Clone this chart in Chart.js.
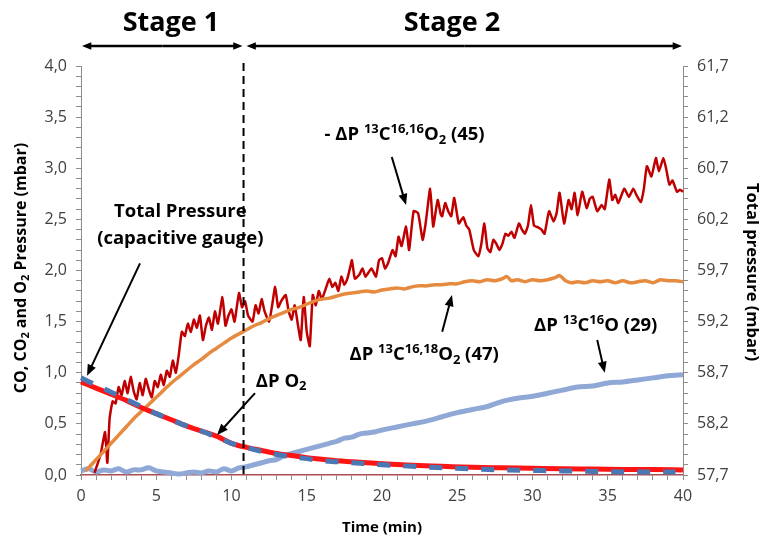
<!DOCTYPE html>
<html>
<head>
<meta charset="utf-8">
<script src="https://cdn.jsdelivr.net/npm/chart.js@4.4.1/dist/chart.umd.min.js"></script>
<style>
  html, body { margin: 0; padding: 0; background: #fff; }
  #wrap { width: 765px; height: 545px; position: relative; }
</style>
</head>
<body>
<div id="wrap"><canvas id="chart"></canvas></div>
<script>
// time axis (min) for the smooth traces
const tSmooth = [0, 1, 2, 3, 4, 5, 6, 7, 8, 9, 10, 11, 12, 13, 14, 15, 16, 17, 18, 19, 20,
  22, 24, 26, 28, 30, 32, 34, 36, 38, 40];

// total pressure, capacitive gauge (mbar, right axis)
const totalPressure = [58.61, 58.55, 58.49, 58.43, 58.36, 58.30, 58.24, 58.18, 58.13, 58.08, 58.01,
  57.97, 57.94, 57.91, 57.89, 57.87, 57.855, 57.84, 57.83, 57.82, 57.81,
  57.795, 57.785, 57.775, 57.77, 57.765, 57.76, 57.758, 57.755, 57.753, 57.75];

// O2 consumption (mbar)
const tO2 = [0, 1, 2, 3, 4, 5, 6, 7, 8, 9, 10, 11, 12, 13, 14, 15, 16, 17, 18, 19, 20,
  22, 24, 26, 28, 30, 32, 34, 36, 38, 39.5];
const dpO2 = [0.95, 0.88, 0.81, 0.74, 0.67, 0.60, 0.54, 0.48, 0.43, 0.37, 0.31,
  0.27, 0.23, 0.20, 0.18, 0.16, 0.14, 0.13, 0.12, 0.11, 0.10,
  0.085, 0.07, 0.06, 0.05, 0.045, 0.04, 0.035, 0.03, 0.03, 0.03];

// 13C16,18O2, m/z 47
const t47 = [0.3, 0.5, 1, 1.5, 2, 2.5, 3, 3.5, 4, 4.5, 5, 5.5, 6, 6.5, 7, 7.5, 8, 8.5, 9, 9.5,
  10, 10.5, 11, 11.5, 12, 12.5, 13, 13.5, 14, 14.5, 15, 15.5, 16, 16.5, 17, 17.5, 18, 18.5,
  19, 19.5, 20, 20.5, 21, 21.5, 22, 22.5, 23, 23.5, 24, 24.5, 25, 25.5, 26, 26.5, 27, 27.5,
  28, 28.3, 28.6, 29, 29.5, 30, 30.5, 31, 31.5, 31.8, 32.2, 32.6, 33, 33.5, 34, 34.5, 35,
  35.5, 36, 36.5, 37, 37.5, 38, 38.5, 39, 39.5, 40];
const p47 = [0.04, 0.07, 0.15, 0.23, 0.31, 0.39, 0.47, 0.55, 0.62, 0.69, 0.76, 0.83, 0.90,
  0.96, 1.02, 1.08, 1.13, 1.19, 1.24, 1.29, 1.34, 1.38, 1.42, 1.46, 1.49, 1.53, 1.56, 1.59,
  1.62, 1.64, 1.67, 1.70, 1.72, 1.73, 1.75, 1.77, 1.78, 1.79, 1.80, 1.79, 1.81, 1.82, 1.83,
  1.82, 1.84, 1.85, 1.85, 1.86, 1.86, 1.87, 1.87, 1.89, 1.90, 1.89, 1.91, 1.90, 1.92, 1.94,
  1.90, 1.91, 1.89, 1.91, 1.90, 1.91, 1.93, 1.95, 1.90, 1.88, 1.89, 1.88, 1.90, 1.89, 1.90,
  1.88, 1.90, 1.88, 1.89, 1.90, 1.88, 1.91, 1.90, 1.90, 1.89];

// 13C16O, m/z 29
const t29 = [0, 0.5, 1, 1.5, 2, 2.5, 3, 3.5, 4, 4.5, 5, 5.5, 6, 6.5, 7, 7.5, 8, 8.5, 9, 9.5,
  10, 10.5, 11, 11.5, 12, 12.5, 13, 13.5, 14, 14.5, 15, 15.5, 16, 16.5, 17, 17.5, 18, 18.5,
  19, 19.5, 20, 21, 22, 23, 24, 25, 26, 27, 28, 29, 30, 31, 32, 33, 34, 35, 36, 37, 38, 39, 40];
const p29 = [0.04, 0.06, 0.03, 0.05, 0.04, 0.06, 0.03, 0.05, 0.05, 0.07, 0.04, 0.03, 0.02,
  0.01, 0.02, 0.03, 0.02, 0.04, 0.03, 0.06, 0.04, 0.07, 0.08, 0.10, 0.12, 0.14, 0.15, 0.19,
  0.21, 0.23, 0.25, 0.27, 0.29, 0.31, 0.33, 0.36, 0.37, 0.40, 0.41, 0.42, 0.44, 0.47, 0.50,
  0.53, 0.57, 0.61, 0.64, 0.67, 0.72, 0.75, 0.77, 0.80, 0.83, 0.86, 0.87, 0.90, 0.91, 0.93,
  0.95, 0.97, 0.98];

// -13C16,16O2, m/z 45 (noisy)
const t45 = [0.9, 1.3, 1.6, 1.75, 1.9, 2.1, 2.3, 2.5, 2.7, 2.9, 3.1, 3.3, 3.5, 3.7, 3.9, 4.1,
  4.3, 4.5, 4.7, 4.9, 5.1, 5.3, 5.5, 5.7, 5.9, 6.1, 6.3, 6.5, 6.7, 6.9, 7.1, 7.3, 7.5, 7.7,
  7.9, 8.1, 8.3, 8.5, 8.7, 8.9, 9.1, 9.4, 9.6, 9.8, 10.0, 10.2, 10.5, 10.7, 10.9, 11.1, 11.4,
  11.6, 11.8, 12.0, 12.2, 12.5, 12.7, 12.9, 13.1, 13.3, 13.6, 13.8, 14.0, 14.2, 14.4, 14.6,
  14.8, 15.0, 15.2, 15.4, 15.6, 15.8, 16.0, 16.3, 16.5, 16.7, 16.9, 17.1, 17.3, 17.5, 17.7,
  17.9, 18.0, 18.2, 18.5, 18.7, 18.9, 19.1, 19.3, 19.6, 19.8, 20.0, 20.2, 20.4, 20.7, 20.9,
  21.1, 21.3, 21.6, 21.8, 22.1, 22.4, 22.7, 22.9, 23.2, 23.4, 23.7, 23.9, 24.0, 24.2, 24.4,
  24.6, 24.8, 25.1, 25.4, 25.6, 25.8, 26.1, 26.4, 26.6, 26.8, 27.0, 27.2, 27.4, 27.6, 27.8,
  28.0, 28.2, 28.4, 28.6, 28.8, 29.1, 29.3, 29.5, 29.7, 29.9, 30.1, 30.4, 30.6, 30.8, 31.1,
  31.4, 31.6, 31.8, 32.1, 32.4, 32.6, 32.8, 33.0, 33.3, 33.6, 33.8, 34.0, 34.3, 34.6, 34.8,
  35.1, 35.3, 35.5, 35.7, 36.1, 36.4, 36.7, 36.9, 37.2, 37.4, 37.6, 37.9, 38.2, 38.4, 38.7,
  38.9, 39.1, 39.3, 39.6, 39.8, 40.0];
const p45 = [0.02, 0.20, 0.42, 0.12, 0.55, 0.72, 0.70, 0.86, 0.78, 0.92, 0.80, 0.96, 0.82,
  0.74, 0.90, 0.78, 0.94, 0.84, 0.76, 0.92, 0.86, 0.98, 0.88, 1.02, 0.96, 1.12, 1.00, 1.18,
  1.40, 1.36, 1.48, 1.40, 1.52, 1.44, 1.56, 1.32, 1.46, 1.54, 1.42, 1.60, 1.48, 1.74, 1.46,
  1.56, 1.62, 1.50, 1.78, 1.64, 1.70, 1.56, 1.50, 1.66, 1.58, 1.72, 1.60, 1.50, 1.66, 1.84,
  1.64, 1.70, 1.76, 1.60, 1.52, 1.66, 1.48, 1.32, 1.74, 1.40, 1.26, 1.76, 1.66, 1.80, 1.72,
  1.84, 1.92, 1.84, 1.88, 1.80, 1.94, 1.86, 1.92, 2.04, 2.10, 1.92, 1.96, 2.02, 1.94, 1.98,
  2.02, 1.94, 2.10, 2.12, 2.02, 2.07, 2.20, 2.14, 2.33, 2.24, 2.43, 2.20, 2.58, 2.56, 2.30,
  2.46, 2.80, 2.43, 2.69, 2.55, 2.53, 2.66, 2.58, 2.53, 2.71, 2.46, 2.52, 2.44, 2.40, 2.20,
  2.14, 2.26, 2.46, 2.22, 2.18, 2.30, 2.26, 2.20, 2.26, 2.36, 2.34, 2.38, 2.32, 2.46, 2.40,
  2.36, 2.44, 2.64, 2.44, 2.42, 2.40, 2.36, 2.58, 2.48, 2.56, 2.76, 2.46, 2.69, 2.60, 2.76,
  2.54, 2.77, 2.61, 2.70, 2.72, 2.58, 2.64, 2.60, 2.89, 2.69, 2.74, 2.66, 2.80, 2.72, 2.80,
  2.74, 2.67, 2.80, 3.02, 2.92, 3.10, 2.97, 3.10, 2.98, 2.84, 2.88, 2.77, 2.79, 2.77];

// boundary between the two stages (min)
const stageSplit = 10.8;

const FONT = '"Open Sans", Lato, sans-serif';
const xy = (xs, ys) => xs.map((x, i) => ({ x: x, y: ys[i] }));
const comma = v => v.toFixed(1).replace('.', ',');

// draws text made of normal / superscript (1) / subscript (-1) pieces, centred at (cx, cy)
function richText(ctx, parts, cx, cy, size) {
  const small = Math.round(size * 0.68);
  let total = 0;
  parts.forEach(p => {
    ctx.font = 'bold ' + (p[1] ? small : size) + 'px ' + FONT;
    total += ctx.measureText(p[0]).width;
  });
  let x = cx - total / 2;
  ctx.textBaseline = 'alphabetic';
  ctx.textAlign = 'left';
  const base = cy + size * 0.36;
  parts.forEach(p => {
    ctx.font = 'bold ' + (p[1] ? small : size) + 'px ' + FONT;
    const dy = p[1] === 1 ? -size * 0.4 : (p[1] === -1 ? size * 0.2 : 0);
    ctx.fillText(p[0], x, base + dy);
    x += ctx.measureText(p[0]).width;
  });
}

function arrow(ctx, x1, y1, x2, y2, head, width) {
  const a = Math.atan2(y2 - y1, x2 - x1);
  ctx.lineWidth = width;
  ctx.beginPath();
  ctx.moveTo(x1, y1);
  ctx.lineTo(x2 - Math.cos(a) * head * 0.8, y2 - Math.sin(a) * head * 0.8);
  ctx.stroke();
  ctx.beginPath();
  ctx.moveTo(x2, y2);
  ctx.lineTo(x2 - head * Math.cos(a - 0.38), y2 - head * Math.sin(a - 0.38));
  ctx.lineTo(x2 - head * Math.cos(a + 0.38), y2 - head * Math.sin(a + 0.38));
  ctx.closePath();
  ctx.fill();
}

const notes = {
  id: 'notes',
  afterDatasetsDraw(chart) {
    const { ctx, chartArea, scales } = chart;
    const X = v => scales.x.getPixelForValue(v);
    const Y = v => scales.y.getPixelForValue(v);
    ctx.save();
    ctx.fillStyle = '#000';
    ctx.strokeStyle = '#000';

    // stage divider
    ctx.setLineDash([8, 5]);
    ctx.lineWidth = 2;
    ctx.beginPath();
    ctx.moveTo(X(stageSplit), chartArea.top - 3);
    ctx.lineTo(X(stageSplit), chartArea.bottom);
    ctx.stroke();
    ctx.setLineDash([]);

    // stage arrows and names
    const ay = chartArea.top - 20;
    const s1 = X(0), s2 = X(stageSplit), s3 = X(40);
    [[s1 + 1, s2 - 1], [s2 + 3, s3 - 1]].forEach(([a, b]) => {
      const m = (a + b) / 2;
      arrow(ctx, m, ay, a, ay, 10, 2.5);
      arrow(ctx, m, ay, b, ay, 10, 2.5);
    });
    richText(ctx, [['Stage 1', 0]], 171, 21, 27);
    richText(ctx, [['Stage 2', 0]], 452, 21, 27);

    // series labels
    richText(ctx, [['Total Pressure', 0]], X(6.6), Y(2.59), 18.5);
    richText(ctx, [['(capacitive gauge)', 0]], X(6.6), Y(2.32), 18.5);
    arrow(ctx, X(3.92), Y(2.07), X(0.4), Y(0.97), 12, 2);

    richText(ctx, [['- \u0394P ', 0], ['13', 1], ['C', 0], ['16,16', 1], ['O', 0], ['2', -1], [' (45)', 0]],
      X(21.5), Y(3.34), 18.5);
    arrow(ctx, X(20.65), Y(3.11), X(21.6), Y(2.64), 12, 2);

    richText(ctx, [['\u0394P O', 0], ['2', -1]], X(13.3), Y(0.93), 18.5);
    arrow(ctx, X(11.56), Y(0.80), X(9.04), Y(0.39), 12, 2);

    richText(ctx, [['\u0394P ', 0], ['13', 1], ['C', 0], ['16,18', 1], ['O', 0], ['2', -1], [' (47)', 0]],
      X(22.8), Y(1.19), 18.5);
    arrow(ctx, X(24.0), Y(1.40), X(24.65), Y(1.76), 12, 2);

    richText(ctx, [['\u0394P ', 0], ['13', 1], ['C', 0], ['16', 1], ['O (29)', 0]],
      X(34.2), Y(1.47), 18.5);
    arrow(ctx, X(34.3), Y(1.32), X(34.8), Y(1.00), 12, 2);

    // axis titles
    ctx.save();
    ctx.translate(20, 268);
    ctx.rotate(-Math.PI / 2);
    richText(ctx, [['CO, CO', 0], ['2', -1], [' and O', 0], ['2', -1], [' Pressure (mbar)', 0]], 0, 0, 16);
    ctx.restore();
    ctx.save();
    ctx.translate(753, 272);
    ctx.rotate(Math.PI / 2);
    richText(ctx, [['Total pressure (mbar)', 0]], 0, 0, 16.5);
    ctx.restore();
    richText(ctx, [['Time (min)', 0]], (chartArea.left + chartArea.right) / 2, 527, 15);
    ctx.restore();
  }
};

const tickFont = { family: FONT, size: 16 };
const axisGrey = '#8c8c8c';

new Chart(document.getElementById('chart'), {
  type: 'line',
  data: {
    datasets: [
      {
        label: 'ΔP O2',
        data: xy(tO2, dpO2),
        borderColor: '#4a78b4',
        borderWidth: 5,
        borderDash: [13, 13],
        cubicInterpolationMode: 'monotone',
        yAxisID: 'y'
      },
      {
        label: 'Total pressure',
        data: xy(tSmooth, totalPressure),
        borderColor: '#ff1414',
        borderWidth: 5,
        cubicInterpolationMode: 'monotone',
        yAxisID: 'y2'
      },
      {
        label: 'ΔP 13C16,18O2 (47)',
        data: xy(t47, p47),
        borderColor: '#e58a3e',
        borderWidth: 3.5,
        tension: 0.3,
        yAxisID: 'y'
      },
      {
        label: '- ΔP 13C16,16O2 (45)',
        data: xy(t45, p45),
        borderColor: '#c00000',
        borderWidth: 2.5,
        tension: 0.15,
        yAxisID: 'y'
      },
      {
        label: 'ΔP 13C16O (29)',
        data: xy(t29, p29),
        borderColor: '#8fa8d6',
        borderWidth: 5,
        tension: 0.3,
        yAxisID: 'y'
      }
    ]
  },
  options: {
    responsive: true,
    maintainAspectRatio: false,
    animation: false,
    datasets: { line: { pointRadius: 0, clip: false } },
    layout: { padding: { top: 66, left: 0, right: 0, bottom: 0 } },
    plugins: { legend: { display: false }, tooltip: { enabled: false } },
    scales: {
      x: {
        type: 'linear',
        min: 0,
        max: 40,
        afterFit: s => { s.height = 70; },
        border: { color: '#a85050', width: 1.5 },
        grid: { drawOnChartArea: false, drawTicks: true, tickLength: 5, color: axisGrey },
        ticks: {
          stepSize: 1,
          autoSkip: false,
          maxRotation: 0,
          padding: 7,
          color: '#404040',
          font: tickFont,
          callback: v => (Math.round(v) % 5 === 0 ? String(Math.round(v)) : '')
        }
      },
      y: {
        position: 'left',
        min: 0,
        max: 4,
        afterFit: s => { s.width = 81; },
        border: { color: axisGrey, width: 1 },
        grid: { drawOnChartArea: false, drawTicks: true, tickLength: 5, color: axisGrey },
        ticks: {
          stepSize: 0.1,
          autoSkip: false,
          padding: 9,
          color: '#404040',
          font: tickFont,
          callback: (v, i) => (i % 5 === 0 ? comma(v) : '')
        }
      },
      y2: {
        position: 'right',
        min: 57.7,
        max: 61.7,
        afterFit: s => { s.width = 82; },
        border: { color: axisGrey, width: 1 },
        grid: { drawOnChartArea: false, drawTicks: true, tickLength: 5, color: axisGrey },
        ticks: {
          stepSize: 0.1,
          autoSkip: false,
          padding: 9,
          color: '#404040',
          font: tickFont,
          callback: (v, i) => (i % 5 === 0 ? comma(v) : '')
        }
      }
    }
  },
  plugins: [notes]
});
</script>
</body>
</html>
